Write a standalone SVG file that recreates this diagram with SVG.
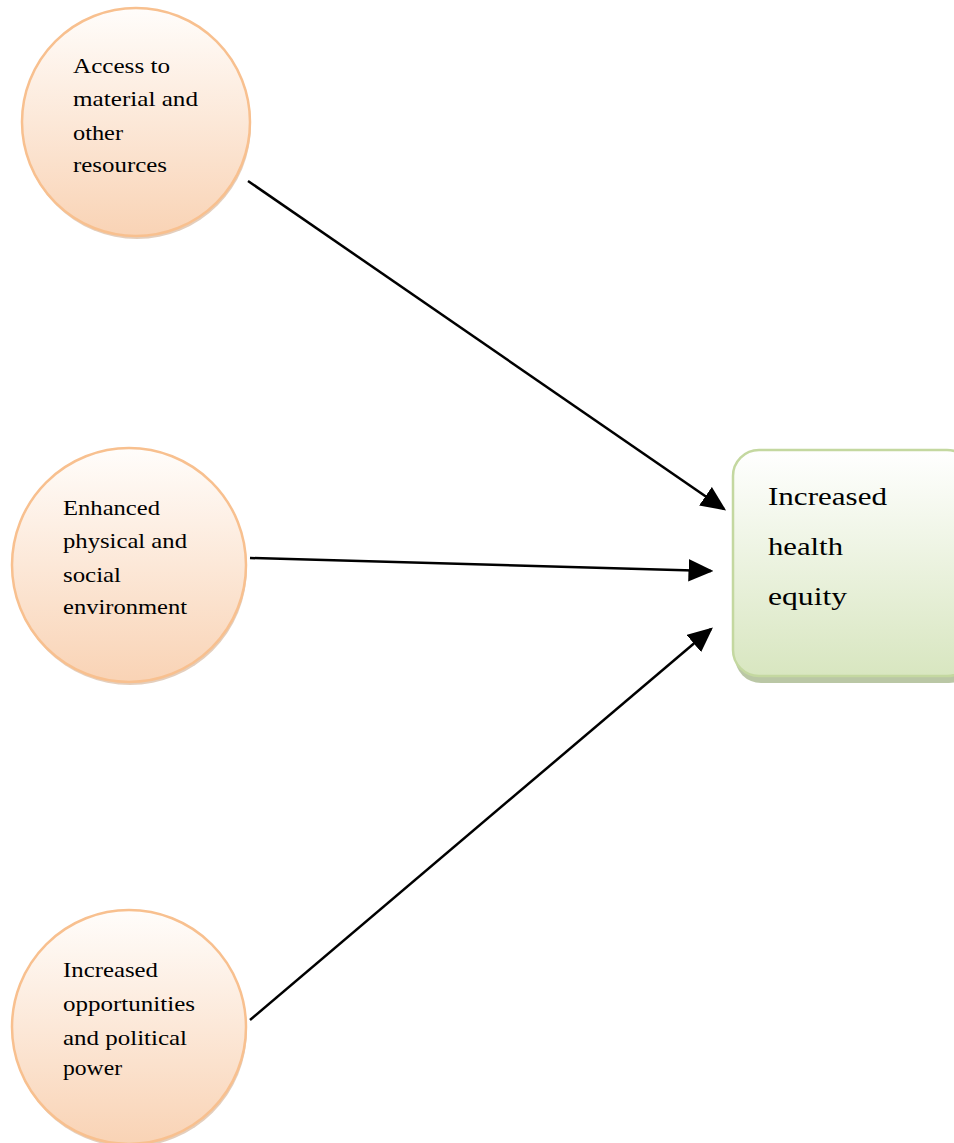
<svg xmlns="http://www.w3.org/2000/svg" width="954" height="1143" viewBox="0 0 954 1143">
<defs>
<linearGradient id="gOrange" x1="0" y1="0" x2="0" y2="1">
<stop offset="0" stop-color="#fffdfb"/>
<stop offset="1" stop-color="#f9d3b5"/>
</linearGradient>
<linearGradient id="gGreen" x1="0" y1="0" x2="0" y2="1">
<stop offset="0" stop-color="#ffffff"/>
<stop offset="1" stop-color="#d8e6c0"/>
</linearGradient>
<marker id="arrow" markerWidth="10" markerHeight="9" refX="9" refY="4.5" orient="auto" markerUnits="strokeWidth">
<path d="M0,0 L10,4.5 L0,9 Z" fill="#000"/>
</marker>
<style>
.circ{fill:url(#gOrange);stroke:#f8c08f;stroke-width:2.5}
.shad{fill:#d9b9a0;opacity:0.7}
.lbl{font-family:"Liberation Serif","Times New Roman",serif;font-size:22px;fill:#000}
.big{font-family:"Liberation Serif","Times New Roman",serif;font-size:26px;fill:#000}
.conn{stroke:#000;stroke-width:2.5;fill:none;marker-end:url(#arrow)}
</style>
</defs>
<rect width="954" height="1143" fill="#fff"/>
<g id="node-access">
<circle class="shad" cx="137" cy="125" r="114"/>
<circle class="circ" cx="136" cy="122" r="114"/>
<text class="lbl" x="73" y="73" textLength="97" lengthAdjust="spacingAndGlyphs">Access to</text>
<text class="lbl" x="73" y="106" textLength="125" lengthAdjust="spacingAndGlyphs">material and</text>
<text class="lbl" x="73" y="140" textLength="50" lengthAdjust="spacingAndGlyphs">other</text>
<text class="lbl" x="73" y="172" textLength="94" lengthAdjust="spacingAndGlyphs">resources</text>
</g>
<g id="node-environment">
<circle class="shad" cx="130" cy="568" r="117"/>
<circle class="circ" cx="129" cy="565" r="117"/>
<text class="lbl" x="63" y="515" textLength="97" lengthAdjust="spacingAndGlyphs">Enhanced</text>
<text class="lbl" x="63" y="548" textLength="124" lengthAdjust="spacingAndGlyphs">physical and</text>
<text class="lbl" x="63" y="582" textLength="58" lengthAdjust="spacingAndGlyphs">social</text>
<text class="lbl" x="63" y="614" textLength="124" lengthAdjust="spacingAndGlyphs">environment</text>
</g>
<g id="node-opportunities">
<circle class="shad" cx="130" cy="1030" r="117"/>
<circle class="circ" cx="129" cy="1027" r="117"/>
<text class="lbl" x="63" y="977" textLength="95" lengthAdjust="spacingAndGlyphs">Increased</text>
<text class="lbl" x="63" y="1011" textLength="132" lengthAdjust="spacingAndGlyphs">opportunities</text>
<text class="lbl" x="63" y="1045" textLength="124" lengthAdjust="spacingAndGlyphs">and political</text>
<text class="lbl" x="63" y="1075" textLength="59" lengthAdjust="spacingAndGlyphs">power</text>
</g>
<g id="node-equity">
<rect x="735" y="455" width="240" height="228" rx="26" fill="#a9b98f" opacity="0.8"/>
<rect x="733" y="450" width="240" height="226" rx="26" fill="url(#gGreen)" stroke="#c4d8a0" stroke-width="2.5"/>
<text class="big" x="768" y="505" textLength="119" lengthAdjust="spacingAndGlyphs">Increased</text>
<text class="big" x="768" y="555" textLength="75" lengthAdjust="spacingAndGlyphs">health</text>
<text class="big" x="768" y="605" textLength="79" lengthAdjust="spacingAndGlyphs">equity</text>
</g>
<g id="connectors">
<line class="conn" x1="248" y1="181" x2="724" y2="509"/>
<line class="conn" x1="250" y1="558" x2="711" y2="571"/>
<line class="conn" x1="250" y1="1020" x2="711" y2="629"/>
</g>
</svg>
